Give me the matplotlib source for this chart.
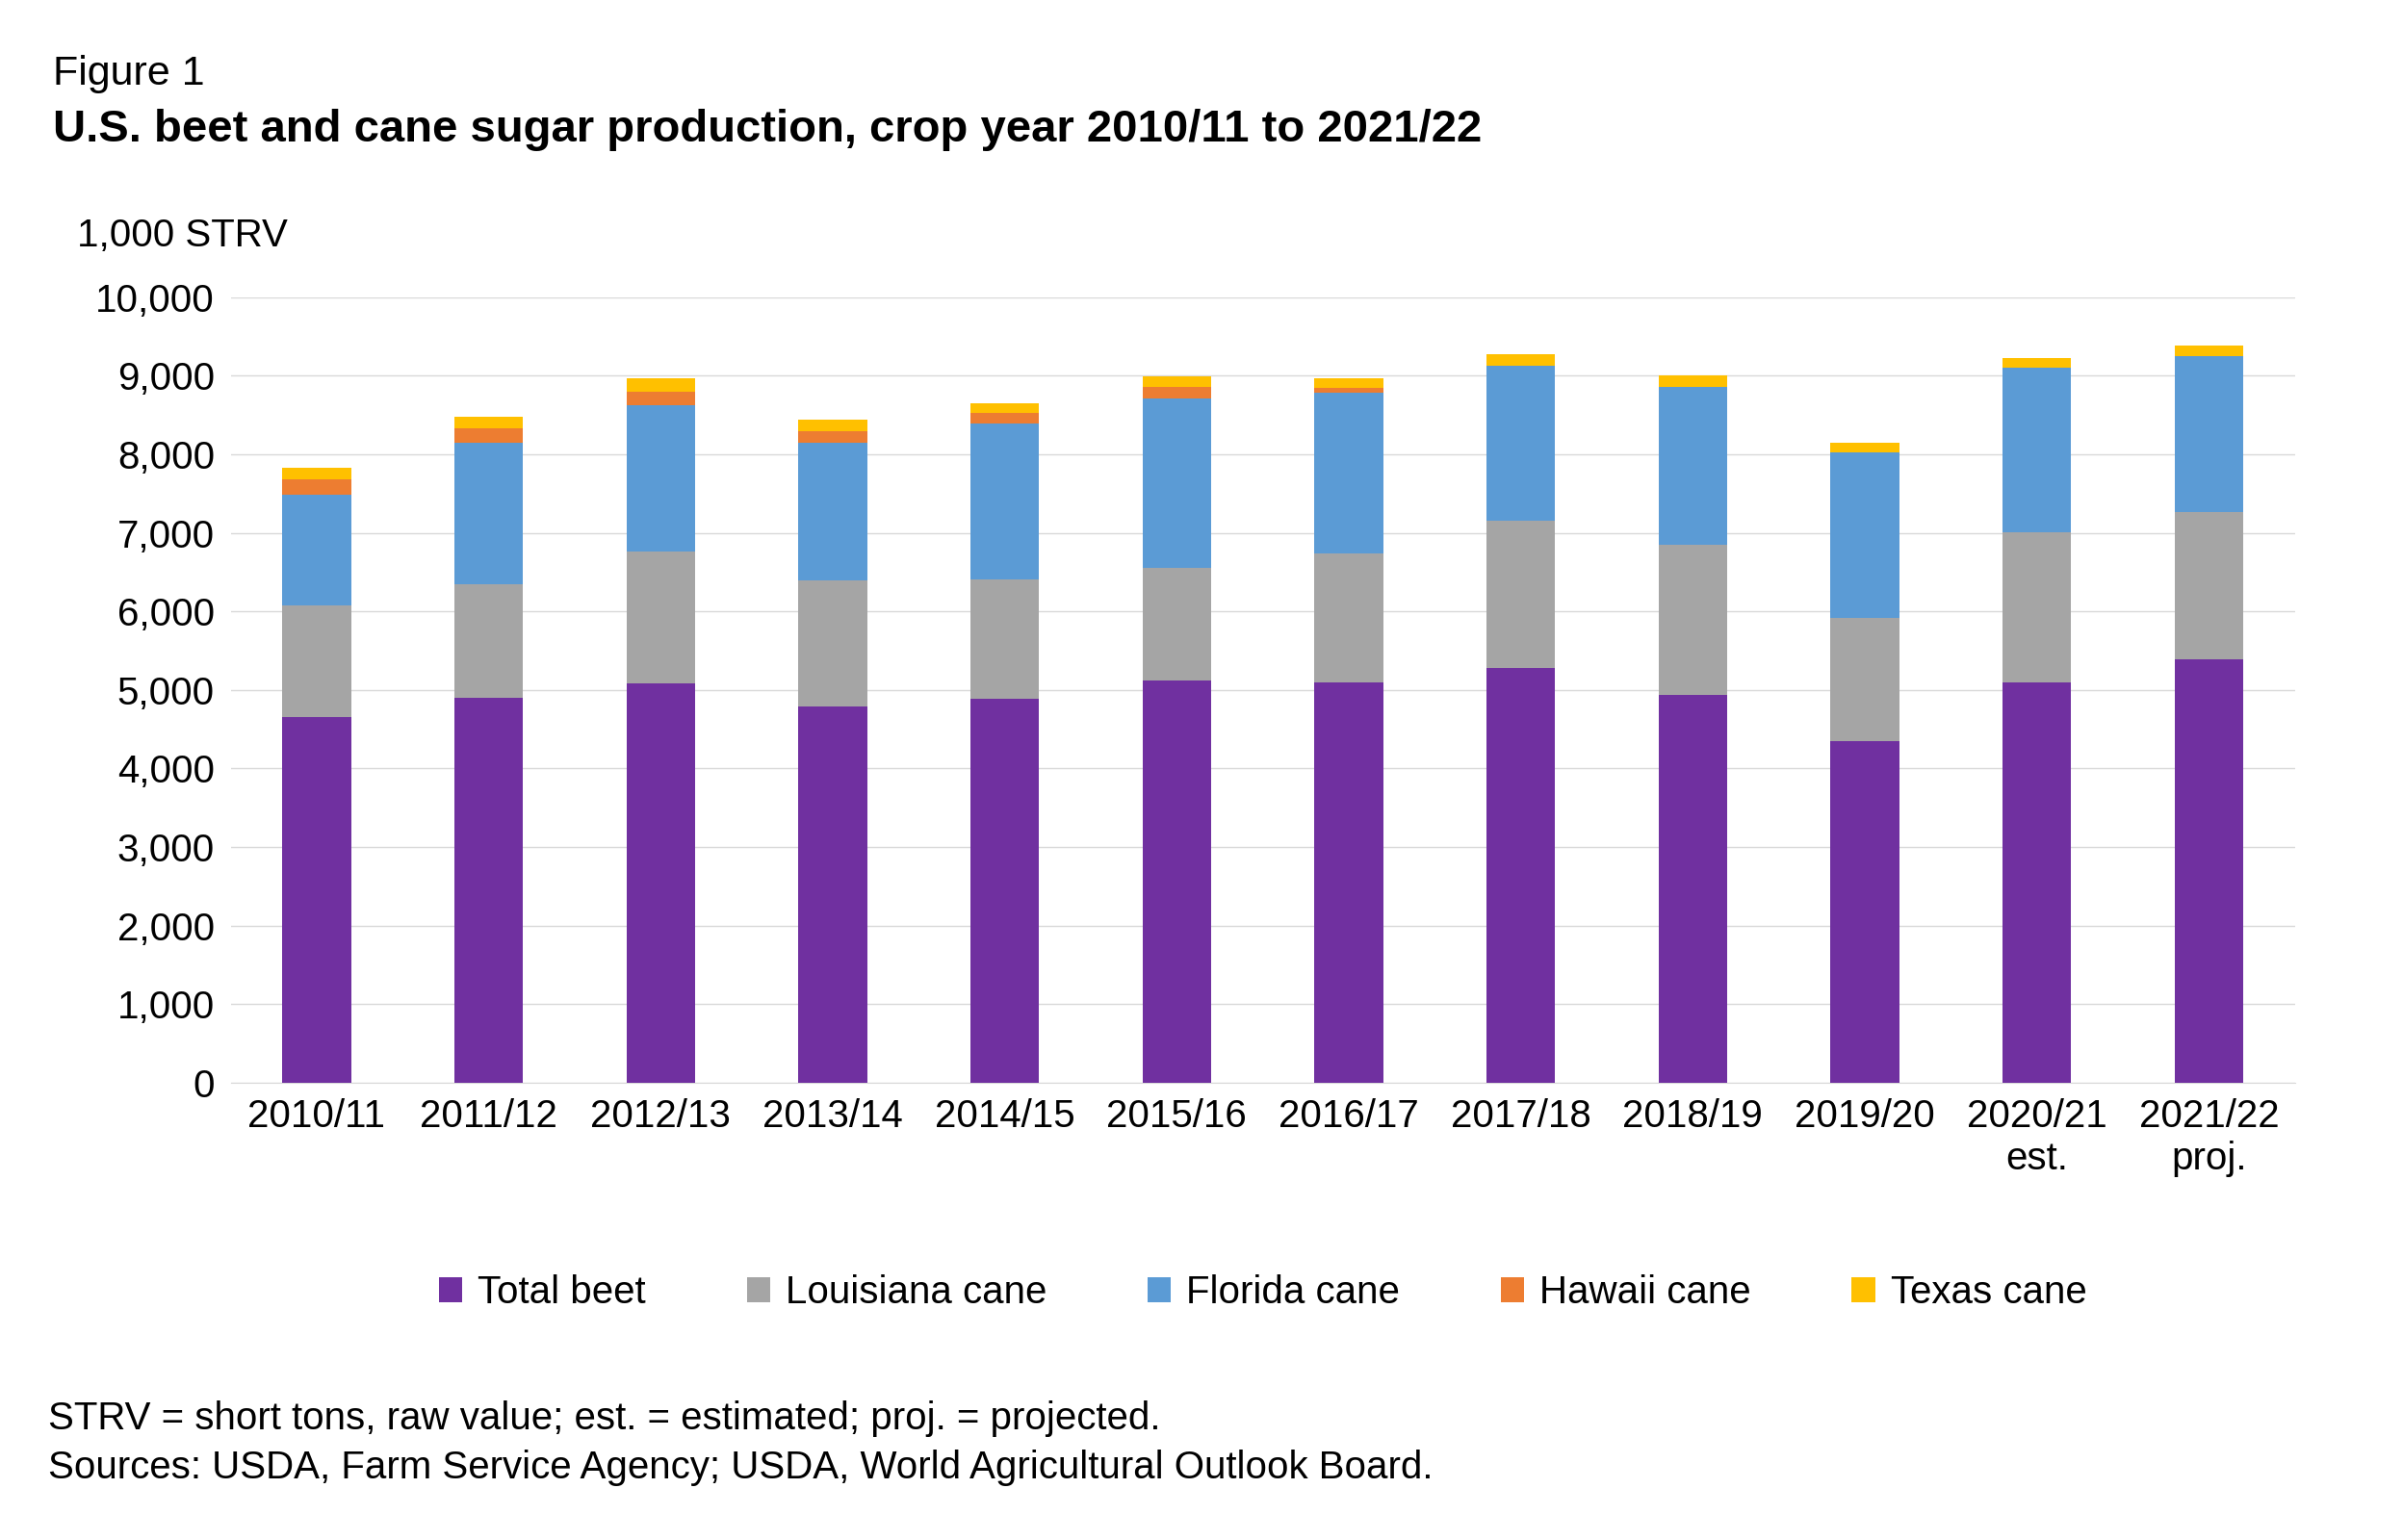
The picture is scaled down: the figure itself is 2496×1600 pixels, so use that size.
import numpy as np
import matplotlib.pyplot as plt

plt.rcParams['font.family'] = ['Liberation Sans', 'DejaVu Sans']

years = ['2010/11', '2011/12', '2012/13', '2013/14', '2014/15', '2015/16',
         '2016/17', '2017/18', '2018/19', '2019/20', '2020/21\nest.', '2021/22\nproj.']
beet = [4650, 4900, 5080, 4790, 4890, 5120, 5100, 5280, 4940, 4350, 5090, 5390]
louisiana = [1430, 1450, 1680, 1600, 1520, 1440, 1640, 1870, 1910, 1570, 1920, 1870]
florida = [1410, 1800, 1870, 1760, 1980, 2150, 2050, 1980, 2010, 2100, 2090, 1990]
hawaii = [190, 180, 170, 140, 140, 150, 50, 0, 0, 0, 0, 0]
texas = [150, 150, 170, 150, 120, 130, 130, 150, 140, 130, 130, 140]

series = [('Total beet', beet, '#7030a0'),
          ('Louisiana cane', louisiana, '#a5a5a5'),
          ('Florida cane', florida, '#5b9bd5'),
          ('Hawaii cane', hawaii, '#ed7d31'),
          ('Texas cane', texas, '#ffc000')]

fig = plt.figure(figsize=(24.96, 16), dpi=100)
ax = fig.add_axes([0.096, 0.297, 0.859, 0.51])

x = np.arange(len(years))
bottom = np.zeros(len(years))
for name, vals, col in series:
    ax.bar(x, vals, 0.4, bottom=bottom, color=col, label=name, zorder=3)
    bottom += np.array(vals)

ax.set_ylim(0, 10000)
ax.set_xlim(-0.5, len(years) - 0.5)
ax.set_yticks(range(0, 10001, 1000))
ax.set_yticklabels([f'{v:,}' for v in range(0, 10001, 1000)])
ax.set_xticks(x)
ax.set_xticklabels(years)
ax.yaxis.grid(True, color='#d9d9d9', linewidth=1, zorder=0)
ax.tick_params(axis='both', labelsize=29, length=0, pad=12)
for s in ['top', 'right', 'left']:
    ax.spines[s].set_visible(False)
ax.spines['bottom'].set_color('#d9d9d9')

fig.text(0.032, 0.84, '1,000 STRV', fontsize=29)
fig.text(0.022, 0.945, 'Figure 1', fontsize=31)
fig.text(0.022, 0.908, 'U.S. beet and cane sugar production, crop year 2010/11 to 2021/22',
         fontsize=34, fontweight='bold')

ax.legend(loc='upper center', bbox_to_anchor=(0.5, -0.2), ncol=5, frameon=False,
          fontsize=29, handlelength=0.6, handleheight=0.6, columnspacing=2.6, handletextpad=0.4)

fig.text(0.02, 0.072, 'STRV = short tons, raw value; est. = estimated; proj. = projected.', fontsize=29)
fig.text(0.02, 0.04, 'Sources: USDA, Farm Service Agency; USDA, World Agricultural Outlook Board.', fontsize=29)

fig.savefig('out.png', dpi=100)
